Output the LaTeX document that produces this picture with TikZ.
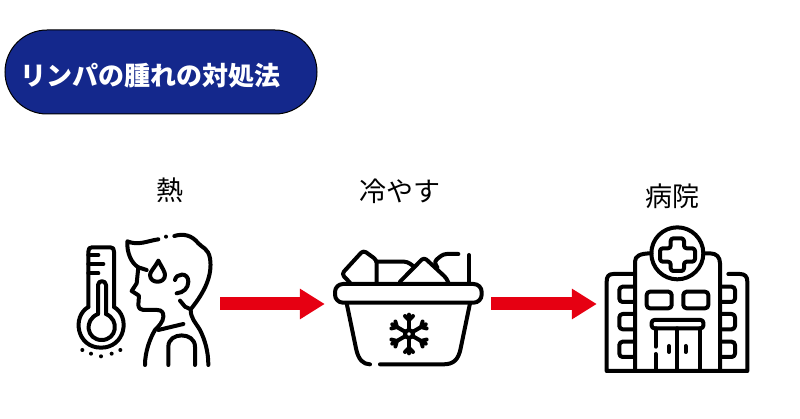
\documentclass[tikz,border=0pt]{standalone}
\usepackage{fontspec}
\setmainfont{Noto Sans CJK JP}
\usetikzlibrary{arrows.meta}
\definecolor{pillblue}{RGB}{20,40,140}
\definecolor{arrowred}{RGB}{230,0,18}
\begin{document}
\begin{tikzpicture}[x=1pt,y=-1pt,
pill/.style = {draw=black, line width=1pt, fill=pillblue, rounded corners=42pt, minimum width=312pt, minimum height=84pt, inner sep=0pt},
titletext/.style = {text=white, font=\fontsize{26}{28}\selectfont\bfseries, inner sep=0pt},
label/.style = {font=\fontsize{27}{29}\selectfont, inner sep=0pt},
spot/.style = {inner sep=0pt, minimum height=100pt},
redarrow/.style = {draw=arrowred, line width=13pt, -{Triangle[length=25pt,width=29pt]}},
icon/.style = {x=1pt/3, y=-1pt/3, line width=4pt, line cap=round, line join=round}]
\useasboundingbox (0,0) rectangle (800,419);
\node[pill] (header) at (161,72) {};
\node[titletext] (title) at (150,76) {リンパの腫れの対処法};
\node[label] (heat) at (170,190) {熱};
\node[label] (cool) at (400,191) {冷やす};
\node[label] (clinic) at (672,196) {病院};
\node[spot, minimum width=140pt] (fever) at (150,304) {};
\node[spot, minimum width=166pt] (basket) at (408,304) {};
\node[spot, minimum width=158pt] (hospital) at (676,304) {};
\draw[redarrow] (fever) -- (basket);
\draw[redarrow] (basket) -- (hospital);
% thermometer and face
\begin{scope}[shift={(70,170)},icon]
\draw (55,411) -- (55,245) .. controls (55,236) and (58,232) .. (66,232) -- (121,232) .. controls (129,232) and (132,236) .. (132,245) -- (132,411);
\draw (55,411) .. controls (5,440) and (20,533) .. (93,533) .. controls (166,533) and (182,440) .. (132,411);
\draw (84,432) -- (84,345) .. controls (84,330) and (108,330) .. (108,345) -- (108,432);
\draw (84,432) .. controls (40,450) and (50,510) .. (95,510) .. controls (140,510) and (150,450) .. (108,432);
\draw (55,255) -- (85,255) (55,282) -- (100,282) (55,310) -- (85,310);
\foreach \x/\y in {37/540,63/551,93/559,125/551,151/540}
  \fill (\x,\y) circle (6);
\draw (265,208) .. controls (235,212) and (205,228) .. (172,214) .. controls (170,250) and (185,280) .. (205,292) -- (230,300);
\draw (205,292) -- (200,340) -- (185,363) -- (207,377) -- (205,405) .. controls (206,415) and (212,420) .. (220,420) -- (262,420) .. controls (275,420) and (281,428) .. (280,440) .. controls (280,455) and (265,470) .. (255,480) .. controls (240,505) and (225,545) .. (225,585);
\fill (288,200) circle (6);
\draw (313,198) .. controls (340,190) and (365,195) .. (385,220) .. controls (395,232) and (415,235) .. (420,265) .. controls (428,315) and (405,365) .. (362,418);
\draw (330,392) -- (345,410) -- (362,418) .. controls (362,445) and (375,455) .. (390,480) .. controls (405,510) and (415,545) .. (415,585);
\draw (265,480) -- (340,462);
\draw (295,585) -- (295,530) .. controls (295,485) and (375,485) .. (375,530) -- (375,585);
\draw (265,272) .. controls (253,295) and (240,305) .. (240,315) .. controls (240,342) and (285,342) .. (285,315) .. controls (285,305) and (277,295) .. (265,272);
\draw (315,330) .. controls (318,310) and (355,305) .. (355,335) .. controls (355,355) and (340,368) .. (320,370);
\end{scope}
% basket with ice
\begin{scope}[shift={(320,170)},icon]
\draw[rounded corners=24pt/3] (45,342) rectangle (485,398);
\draw (80,400) -- (108,535) .. controls (115,570) and (130,583) .. (150,583);
\draw (180,583) -- (370,583) .. controls (400,583) and (415,570) .. (422,535) -- (450,400);
\draw[rounded corners=10pt/3] (90,338) -- (65,312) -- (130,241) -- (170,270) -- (170,338);
\draw[rounded corners=10pt/3] (172,275) -- (262,275) -- (282,290);
\draw[rounded corners=10pt/3] (240,335) -- (312,262) -- (380,325) -- (385,338);
\draw[rounded corners=10pt/3] (352,292) -- (342,275) -- (370,252) -- (415,252);
\draw (447,255) -- (447,335);
\draw (267,492) circle (12);
\foreach \a in {30,90,...,330} {
  \draw (267,492) ++(\a:12) -- ++(\a:46);
  \draw (267,492) ++(\a:42) -- ++(\a+45:17);
  \draw (267,492) ++(\a:42) -- ++(\a-45:17);
}
\end{scope}
% hospital
\begin{scope}[shift={(590,170)},icon]
\draw (135,603) -- (135,275) .. controls (135,258) and (150,250) .. (185,250);
\draw (340,250) -- (360,250) .. controls (380,250) and (390,262) .. (390,280) -- (390,603);
\draw (262,250) circle (78);
\draw[rounded corners=8pt/3] (242,205) -- (282,205) -- (282,235) -- (315,235) -- (315,275) -- (282,275) -- (282,303) -- (242,303) -- (242,275) -- (210,275) -- (210,235) -- (242,235) -- cycle;
\draw (135,312) -- (70,312) .. controls (55,312) and (50,320) .. (50,335) -- (50,603) -- (472,603) -- (472,335) .. controls (472,320) and (465,312) .. (450,312) -- (415,312);
\foreach \y in {350,432,515} {
  \draw[rounded corners=10pt/3] (135,\y) -- (88,\y) -- (88,\y+46) -- (135,\y+46);
  \draw[rounded corners=10pt/3] (390,\y) -- (435,\y) -- (435,\y+46) -- (390,\y+46);
}
\draw[rounded corners=10pt/3] (170,365) rectangle (245,415);
\draw[rounded corners=10pt/3] (280,365) rectangle (355,415);
\draw[rounded corners=8pt/3] (185,450) rectangle (340,475);
\draw (197,475) -- (197,530) (197,552) -- (197,603) (262,475) -- (262,603) (330,475) -- (330,603);
\draw (237,528) -- (237,546) (287,528) -- (287,546);
\end{scope}
\end{tikzpicture}
\end{document}
